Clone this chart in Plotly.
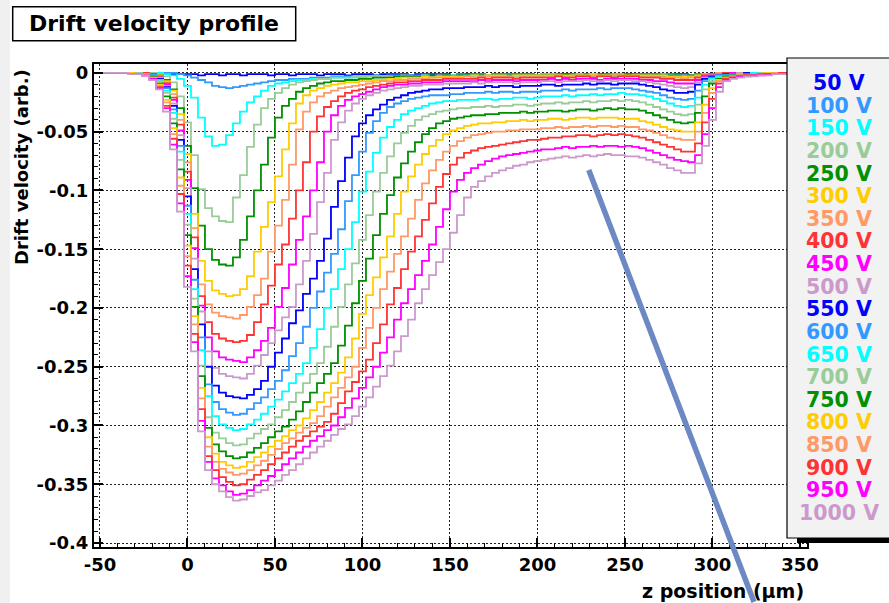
import numpy as np
import plotly.graph_objects as go

# Drift velocity profiles along z, one value per 4 um bin (first bin starts at z = -54 um).
# Values are in units of 1e-3 (arb.).
Z_FIRST_EDGE = -54.0
Z_BIN_WIDTH = 4.0
SCALE = 1e-3

v50 = [0, 0, 0, 0, 0, 0, 0, 0, 0, 0,
       0, -1, -1, -1, -1, -2, -1, -1, -2, -1,
       -1, -2, -1, -1, -1, -2, -1, -1, -2, -1,
       -1, -1, -2, -1, -1, -1, -2, -1, -1, -1,
       -2, -1, -1, -1, -1, -2, -1, -1, -1, -1,
       -1, -2, -1, -1, -1, -1, -2, -1, -1, -1,
       -1, -1, -1, -2, -1, -1, -1, -1, -1, -2,
       -1, -1, -1, -1, -2, -1, -1, -1, -1, -1,
       -1, -2, -1, -1, -1, -2, -1, -1, -1, -1,
       0, -1, 0, 0, 0, 0, 0, 0, 0, 0,
       0, 0]
v100 = [0, 0, 0, 0, 0, 0, 0, 0, 0, 0,
        0, 0, -1, -2, -4, -6, -8, -11, -12, -13,
        -12, -11, -10, -9, -8, -7, -6, -6, -5, -5,
        -5, -4, -4, -4, -3, -3, -3, -3, -3, -3,
        -2, -3, -2, -2, -2, -2, -2, -2, -2, -2,
        -2, -2, -1, -2, -1, -1, -2, -1, -1, -1,
        -1, -1, -1, -2, -1, -1, -1, -1, -1, -1,
        -1, -1, -1, -1, -1, -1, -1, -1, -1, -1,
        -1, -1, -1, -2, -2, -2, -1, -1, -1, 0,
        0, 0, 0, 0, 0, 0, 0, 0, 0, 0,
        0, 0]
v150 = [0, 0, 0, 0, 0, 0, 0, 0, 0, 0,
        -1, -2, -5, -11, -21, -38, -54, -62, -61, -53,
        -43, -33, -25, -20, -15, -11, -9, -8, -7, -6,
        -6, -5, -5, -5, -4, -4, -4, -4, -4, -3,
        -3, -3, -4, -3, -3, -3, -3, -2, -3, -3,
        -3, -2, -3, -2, -2, -3, -2, -2, -2, -2,
        -2, -2, -2, -2, -1, -2, -2, -2, -2, -1,
        -2, -2, -1, -2, -2, -2, -1, -2, -2, -2,
        -2, -2, -2, -2, -3, -3, -2, -1, -1, -1,
        -1, 0, 0, 0, 0, 0, 0, 0, 0, 0,
        0, 0]
v200 = [0, 0, 0, 0, 0, 0, 0, 0, 0, -1,
        -3, -8, -20, -42, -70, -99, -115, -122, -126, -127,
        -106, -87, -63, -44, -30, -22, -17, -13, -10, -8,
        -7, -6, -5, -5, -4, -4, -4, -3, -3, -3,
        -3, -3, -3, -3, -2, -3, -3, -2, -3, -2,
        -2, -2, -3, -2, -2, -2, -2, -2, -2, -2,
        -2, -2, -2, -2, -2, -1, -2, -2, -2, -2,
        -2, -1, -2, -2, -2, -1, -2, -2, -2, -2,
        -2, -2, -2, -2, -2, -2, -2, -1, -1, 0,
        -1, 0, 0, 0, 0, 0, 0, 0, 0, 0,
        0, 0]
v250 = [0, 0, 0, 0, 0, 0, 0, 0, -1, -2,
        -6, -14, -30, -62, -98, -130, -150, -159, -163, -164,
        -157, -142, -122, -100, -78, -55, -38, -28, -22, -16,
        -13, -11, -9, -8, -7, -7, -6, -6, -5, -5,
        -4, -4, -4, -3, -3, -3, -3, -3, -2, -3,
        -2, -3, -2, -2, -2, -2, -3, -2, -2, -2,
        -2, -2, -2, -2, -2, -2, -2, -1, -2, -2,
        -2, -2, -1, -2, -2, -2, -1, -2, -2, -2,
        -2, -2, -2, -2, -3, -2, -2, -1, -1, -1,
        0, 0, 0, 0, 0, 0, 0, 0, 0, 0,
        0, 0]
v300 = [0, 0, 0, 0, 0, 0, 0, 0, -1, -2,
        -7, -15, -35, -69, -120, -160, -177, -185, -188, -190,
        -189, -184, -173, -152, -131, -110, -88, -65, -43, -26,
        -19, -15, -13, -11, -10, -9, -8, -8, -7, -7,
        -6, -6, -5, -5, -4, -4, -4, -3, -4, -3,
        -3, -3, -3, -3, -2, -3, -2, -2, -2, -3,
        -2, -2, -2, -2, -2, -2, -2, -2, -2, -2,
        -2, -1, -2, -2, -2, -2, -2, -2, -2, -2,
        -2, -2, -3, -3, -3, -3, -2, -1, -1, 0,
        0, 0, 0, 0, 0, 0, 0, 0, 0, 0,
        0, 0]
v350 = [0, 0, 0, 0, 0, 0, 0, 0, -1, -3,
        -8, -18, -40, -76, -132, -180, -197, -204, -207, -208,
        -209, -206, -199, -189, -175, -152, -130, -108, -78, -48,
        -33, -25, -20, -17, -15, -13, -12, -11, -10, -9,
        -8, -7, -7, -6, -6, -5, -5, -5, -4, -4,
        -4, -4, -4, -3, -4, -3, -3, -3, -3, -3,
        -4, -3, -3, -3, -3, -3, -2, -3, -3, -2,
        -3, -2, -2, -3, -2, -2, -3, -2, -3, -3,
        -3, -4, -4, -4, -5, -4, -3, -1, -1, 0,
        0, 0, 0, 0, 0, 0, 0, 0, 0, 0,
        0, 0]
v400 = [0, 0, 0, 0, 0, 0, 0, 0, -1, -3,
        -9, -21, -44, -84, -140, -190, -212, -222, -226, -228,
        -229, -228, -223, -212, -197, -181, -163, -146, -124, -100,
        -76, -50, -37, -29, -24, -20, -17, -15, -14, -12,
        -11, -10, -9, -8, -8, -7, -7, -6, -6, -6,
        -5, -5, -5, -5, -5, -4, -5, -4, -4, -4,
        -5, -4, -4, -4, -4, -4, -3, -4, -4, -3,
        -3, -4, -3, -3, -4, -3, -3, -3, -4, -4,
        -4, -5, -5, -6, -6, -6, -4, -2, -1, -1,
        0, 0, 0, 0, 0, 0, 0, 0, 0, 0,
        0, 0]
v450 = [0, 0, 0, 0, 0, 0, 0, -1, -1, -4,
        -10, -23, -49, -91, -149, -198, -225, -237, -242, -244,
        -245, -246, -242, -236, -228, -217, -199, -183, -163, -142,
        -122, -100, -76, -50, -36, -28, -23, -20, -18, -16,
        -14, -12, -11, -10, -10, -9, -9, -8, -8, -8,
        -7, -7, -7, -7, -7, -6, -7, -6, -6, -6,
        -7, -6, -6, -6, -6, -5, -6, -5, -6, -5,
        -5, -5, -6, -5, -5, -5, -5, -5, -6, -6,
        -7, -7, -8, -9, -9, -9, -6, -3, -2, -1,
        -1, 0, 0, 0, 0, 0, 0, 0, 0, 0,
        0, 0]
v500 = [0, 0, 0, 0, 0, 0, 0, -1, -2, -4,
        -11, -26, -53, -98, -158, -203, -237, -251, -256, -258,
        -259, -260, -256, -249, -240, -230, -219, -208, -199, -180,
        -160, -137, -110, -85, -57, -42, -32, -26, -22, -19,
        -17, -15, -14, -13, -12, -11, -11, -10, -10, -10,
        -9, -9, -9, -9, -8, -9, -8, -8, -8, -8,
        -9, -8, -8, -8, -7, -7, -8, -7, -7, -7,
        -6, -7, -7, -6, -7, -6, -6, -7, -7, -8,
        -9, -10, -11, -12, -13, -12, -8, -4, -2, -1,
        -1, -1, 0, 0, 0, 0, 0, 0, 0, 0,
        0, 0]
v550 = [0, 0, 0, 0, 0, 0, 0, -1, -2, -5,
        -12, -28, -57, -105, -167, -214, -250, -266, -272, -275,
        -276, -277, -274, -269, -262, -250, -238, -226, -213, -202,
        -188, -175, -160, -141, -114, -92, -72, -54, -43, -36,
        -31, -27, -23, -21, -19, -17, -16, -15, -14, -14,
        -13, -13, -13, -12, -12, -12, -11, -12, -11, -11,
        -12, -11, -11, -11, -10, -10, -11, -10, -10, -10,
        -9, -10, -9, -9, -10, -9, -9, -9, -10, -11,
        -12, -14, -15, -17, -17, -16, -10, -5, -3, -2,
        -1, -1, -1, 0, 0, 0, 0, 0, 0, 0,
        0, 0]
v600 = [0, 0, 0, 0, 0, 0, 0, -1, -2, -6,
        -13, -31, -62, -113, -176, -225, -265, -280, -286, -289,
        -291, -290, -286, -281, -276, -269, -262, -253, -241, -230,
        -216, -200, -186, -170, -154, -133, -109, -87, -67, -51,
        -41, -34, -29, -26, -24, -22, -21, -20, -19, -19,
        -19, -18, -18, -17, -17, -17, -16, -17, -16, -16,
        -17, -16, -16, -16, -15, -15, -15, -14, -15, -14,
        -14, -14, -13, -14, -13, -13, -13, -14, -15, -16,
        -17, -19, -21, -22, -23, -22, -15, -7, -4, -2,
        -2, -1, -1, -1, 0, 0, 0, 0, 0, 0,
        0, 0]
v650 = [0, 0, 0, 0, 0, 0, 0, -1, -2, -6,
        -15, -34, -67, -120, -184, -236, -275, -292, -299, -302,
        -304, -303, -299, -295, -290, -284, -278, -271, -264, -256,
        -247, -234, -218, -200, -184, -167, -150, -127, -101, -84,
        -68, -55, -46, -40, -35, -32, -30, -28, -26, -25,
        -24, -24, -23, -23, -23, -22, -22, -23, -22, -22,
        -21, -21, -22, -21, -20, -20, -20, -19, -20, -19,
        -19, -18, -19, -18, -18, -17, -18, -18, -19, -20,
        -22, -24, -26, -28, -29, -28, -21, -10, -5, -3,
        -2, -2, -1, -1, 0, 0, 0, 0, 0, 0,
        0, 0]
v700 = [0, 0, 0, 0, 0, 0, 0, -1, -3, -7,
        -17, -39, -74, -129, -192, -249, -293, -306, -311, -315,
        -317, -316, -311, -307, -303, -299, -293, -287, -280, -272,
        -264, -256, -247, -233, -216, -199, -180, -162, -142, -121,
        -101, -85, -71, -60, -51, -45, -40, -37, -35, -33,
        -32, -31, -30, -30, -29, -29, -28, -29, -28, -28,
        -27, -27, -28, -27, -26, -26, -25, -26, -25, -25,
        -24, -25, -24, -24, -23, -24, -23, -24, -25, -27,
        -29, -31, -33, -35, -36, -35, -27, -14, -7, -4,
        -3, -2, -1, -1, -1, 0, 0, 0, 0, 0,
        0, 0]
v750 = [0, 0, 0, 0, 0, 0, -1, -1, -3, -9,
        -20, -43, -82, -138, -199, -258, -302, -316, -322, -326,
        -328, -327, -323, -319, -315, -310, -305, -301, -295, -288,
        -280, -272, -264, -256, -247, -232, -215, -196, -177, -158,
        -138, -120, -104, -89, -77, -67, -59, -52, -47, -43,
        -41, -39, -38, -37, -36, -36, -35, -35, -34, -34,
        -34, -33, -34, -33, -33, -32, -32, -33, -32, -31,
        -31, -32, -31, -30, -31, -30, -31, -31, -32, -34,
        -36, -38, -40, -42, -43, -42, -34, -20, -9, -5,
        -3, -2, -2, -1, -1, -1, 0, 0, 0, 0,
        0, 0]
v800 = [0, 0, 0, 0, 0, 0, -1, -1, -4, -10,
        -23, -47, -89, -147, -207, -268, -310, -324, -331, -334,
        -336, -335, -331, -327, -323, -318, -313, -309, -304, -300,
        -294, -287, -280, -272, -264, -255, -242, -226, -205, -189,
        -174, -157, -139, -120, -101, -88, -78, -69, -62, -57,
        -52, -49, -47, -45, -44, -43, -43, -42, -42, -41,
        -41, -40, -41, -40, -40, -39, -39, -40, -39, -38,
        -38, -39, -38, -38, -38, -39, -39, -39, -41, -42,
        -44, -46, -48, -49, -50, -50, -42, -27, -13, -6,
        -4, -3, -2, -2, -1, -1, 0, 0, 0, 0,
        0, 0]
v850 = [0, 0, 0, 0, 0, -1, -1, -2, -4, -11,
        -25, -52, -96, -156, -214, -277, -318, -331, -337, -340,
        -342, -341, -338, -334, -330, -325, -320, -315, -311, -306,
        -302, -298, -292, -284, -276, -268, -259, -250, -234, -217,
        -200, -184, -169, -154, -139, -124, -108, -94, -83, -74,
        -67, -62, -58, -55, -53, -52, -51, -50, -50, -49,
        -49, -48, -48, -48, -47, -47, -46, -47, -46, -46,
        -45, -46, -45, -45, -46, -45, -46, -46, -48, -49,
        -51, -53, -55, -56, -57, -57, -50, -34, -17, -7,
        -4, -3, -2, -2, -1, -1, -1, 0, 0, 0,
        0, 0]
v900 = [0, 0, 0, 0, 0, -1, -1, -2, -5, -12,
        -28, -56, -103, -164, -222, -286, -326, -338, -344, -348,
        -351, -350, -346, -342, -338, -333, -328, -323, -318, -313,
        -309, -305, -301, -297, -290, -281, -271, -263, -254, -244,
        -230, -214, -197, -183, -167, -152, -139, -125, -111, -97,
        -86, -78, -72, -68, -66, -64, -63, -62, -61, -60,
        -59, -58, -57, -57, -56, -55, -55, -54, -54, -53,
        -53, -54, -53, -52, -53, -52, -53, -54, -55, -57,
        -59, -61, -63, -65, -67, -67, -60, -42, -22, -9,
        -5, -4, -3, -2, -2, -1, -1, -1, 0, 0,
        0, 0]
v950 = [0, 0, 0, 0, 0, -1, -1, -2, -5, -13,
        -30, -61, -111, -173, -229, -296, -331, -345, -351, -356,
        -359, -358, -355, -351, -347, -343, -338, -333, -328, -323,
        -318, -313, -309, -304, -300, -293, -285, -277, -268, -259,
        -250, -238, -225, -210, -196, -184, -172, -160, -146, -131,
        -116, -101, -91, -85, -81, -78, -75, -73, -71, -70,
        -69, -68, -67, -66, -65, -65, -64, -63, -64, -63,
        -63, -62, -63, -62, -62, -63, -62, -63, -64, -66,
        -68, -70, -72, -74, -75, -76, -70, -52, -30, -12,
        -6, -4, -3, -3, -2, -2, -1, -1, -1, 0,
        0, 0]
v1000 = [0, 0, 0, 0, 0, -1, -1, -2, -6, -14,
         -33, -65, -118, -182, -237, -305, -338, -350, -356, -361,
         -364, -363, -360, -357, -355, -351, -347, -342, -338, -333,
         -328, -323, -318, -313, -308, -303, -299, -292, -284, -276,
         -267, -258, -249, -237, -224, -210, -196, -184, -172, -161,
         -150, -136, -121, -106, -97, -92, -88, -85, -83, -81,
         -79, -78, -76, -75, -74, -73, -72, -71, -72, -71,
         -70, -71, -70, -69, -70, -70, -71, -71, -72, -74,
         -76, -78, -81, -83, -85, -85, -77, -62, -40, -16,
         -7, -5, -4, -3, -3, -2, -2, -1, -1, -1,
         0, 0]

SERIES = [v50, v100, v150, v200, v250, v300, v350, v400, v450, v500,
          v550, v600, v650, v700, v750, v800, v850, v900, v950, v1000]
LABELS = ["50 V", "100 V", "150 V", "200 V", "250 V", "300 V", "350 V",
          "400 V", "450 V", "500 V", "550 V", "600 V", "650 V", "700 V",
          "750 V", "800 V", "850 V", "900 V", "950 V", "1000 V"]

X_TICKS = [-50, 0, 50, 100, 150, 200, 250, 300, 350]
X_TICK_TEXT = ["-50", "0", "50", "100", "150", "200", "250", "300", "350"]
Y_TICKS = [0, -0.05, -0.1, -0.15, -0.2, -0.25, -0.3, -0.35, -0.4]
Y_TICK_TEXT = ["0", "-0.05", "-0.1", "-0.15", "-0.2", "-0.25", "-0.3", "-0.35", "-0.4"]

# ROOT-like palette, repeated for the second set of ten voltages
PALETTE = ["#0000ff", "#3399ff", "#00ffff", "#99cc99", "#009000",
           "#ffcc00", "#ff9966", "#ff3333", "#ff00ff", "#cc99cc"]

FONT = "DejaVu Sans"
W, H = 889, 603
# plot frame in pixels
PL, PR, PT, PB = 94, 807, 64, 547


def fx(p):
    return (p - PL) / (PR - PL)


def fy(p):
    return (PB - p) / (PB - PT)


n_bins = len(v1000)
assert all(len(s) == n_bins for s in SERIES), [len(s) for s in SERIES]
edges = Z_FIRST_EDGE + Z_BIN_WIDTH * np.arange(n_bins + 1)

fig = go.Figure()
for i, (vals, name) in enumerate(zip(SERIES, LABELS)):
    y = np.array(vals + [vals[-1]], dtype=float) * SCALE
    fig.add_trace(go.Scatter(
        x=edges, y=y, mode="lines", line_shape="hv", name=name,
        line=dict(color=PALETTE[i % 10], width=1.8),
        showlegend=False, hoverinfo="skip"))

axis_common = dict(
    showline=True, linecolor="black", linewidth=2, mirror=True,
    ticks="inside", ticklen=9, tickwidth=1.5, tickcolor="black",
    showgrid=True, gridcolor="#222222", gridwidth=1, griddash="2px,2px",
    zeroline=False,
    tickfont=dict(family=FONT, size=18, color="black", weight="bold"),
)

fig.update_xaxes(
    range=[-53.4, 354.0], tickmode="array", tickvals=X_TICKS, ticktext=X_TICK_TEXT,
    minor=dict(ticks="inside", ticklen=4, tickwidth=1, tickcolor="black",
               dtick=10, tick0=0, showgrid=False),
    **axis_common)
fig.update_yaxes(
    range=[-0.4034, 0.0076], tickmode="array", tickvals=Y_TICKS, ticktext=Y_TICK_TEXT,
    minor=dict(ticks="inside", ticklen=4, tickwidth=1, tickcolor="black",
               dtick=0.01, tick0=0, showgrid=False),
    **axis_common)

shapes = [
    # light strip along the left edge of the page
    dict(type="rect", xref="paper", yref="paper", x0=fx(0), x1=fx(10), y0=fy(0), y1=fy(H),
         fillcolor="#f0f0f0", line=dict(width=0), layer="below"),
    # title box
    dict(type="rect", xref="paper", yref="paper", x0=fx(12.7), x1=fx(295.7),
         y0=fy(40.7), y1=fy(6.7), fillcolor="white", line=dict(color="black", width=1.5)),
    # legend shadow
    dict(type="rect", xref="paper", yref="paper", x0=fx(797), x1=fx(900),
         y0=fy(543), y1=fy(60), fillcolor="black", line=dict(width=0), layer="above"),
    # legend box
    dict(type="rect", xref="paper", yref="paper", x0=fx(787), x1=fx(900),
         y0=fy(538), y1=fy(58), fillcolor="#f2f2f2", line=dict(color="black", width=1.2),
         layer="above"),
]

annotations = [
    dict(text="Drift velocity profile", xref="paper", yref="paper", x=fx(154), y=fy(24),
         xanchor="center", yanchor="middle", showarrow=False,
         font=dict(family=FONT, size=22, color="black", weight="bold")),
    dict(text="Drift velocity (arb.)", xref="paper", yref="paper", x=fx(21), y=fy(167),
         xanchor="center", yanchor="middle", textangle=-90, showarrow=False,
         font=dict(family=FONT, size=18, color="black", weight="bold")),
    dict(text="z position (\u03bcm)", xref="paper", yref="paper", x=fx(806), y=fy(591),
         xanchor="right", yanchor="middle", showarrow=False,
         font=dict(family=FONT, size=19, color="black", weight="bold")),
]

row0, row_step = 83.0, 22.63
for i, name in enumerate(LABELS):
    annotations.append(dict(
        text=name, xref="paper", yref="paper", x=fx(839), y=fy(row0 + row_step * i),
        xanchor="center", yanchor="middle", showarrow=False,
        font=dict(family=FONT, size=20.5, color=PALETTE[i % 10], weight="bold")))

# pointer line drawn over the frame
head_x, head_y, tail_x, tail_y = 754, 606, 588, 168
annotations.append(dict(
    text=" ", xref="paper", yref="paper", x=fx(head_x), y=fy(head_y),
    ax=tail_x - head_x, ay=tail_y - head_y, showarrow=True, arrowhead=0,
    arrowwidth=5.5, arrowcolor="#6d89c3", standoff=0, startstandoff=0,
    font=dict(size=1)))

fig.update_layout(
    width=W, height=H, autosize=False,
    margin=dict(l=PL, r=W - PR, t=PT, b=H - PB, pad=0),
    paper_bgcolor="white", plot_bgcolor="white",
    showlegend=False, shapes=shapes, annotations=annotations,
)

fig.write_html("out.html", config={"displayModeBar": False})
